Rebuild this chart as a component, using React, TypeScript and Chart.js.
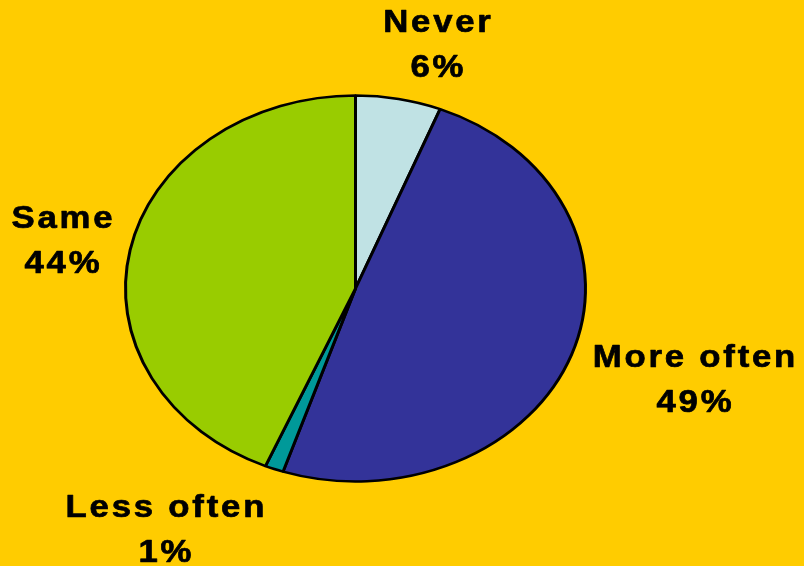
import { useEffect, useRef } from "react";
import { Chart, registerables } from "chart.js";

Chart.register(...registerables);

const categories = ["Never", "More often", "Less often", "Same"];
const values = [6.0, 49.1, 1.3, 43.6];
const percentLabels = ["6%", "49%", "1%", "44%"];
const sliceColors = ["#C0E2E4", "#333399", "#009999", "#99CC00"];

// label anchor (center x, first baseline y) for each category
const labelAnchors: [number, number][] = [
  [437, 32],
  [694, 367],
  [165, 517],
  [62, 228],
];

const W = 804;
const H = 566;
const RX = 230;
const RY = 193;
const SX = 1.12;

export default function App() {
  const ref = useRef<HTMLCanvasElement | null>(null);

  useEffect(() => {
    const canvas = ref.current!;
    const ellipsePlugin = {
      id: "ellipse",
      beforeDraw(chart: any) {
        const ctx = chart.ctx;
        ctx.save();
        ctx.fillStyle = "#FFCC00";
        ctx.fillRect(0, 0, chart.width, chart.height);
        ctx.restore();
      },
      beforeDatasetsDraw(chart: any) {
        const arc = chart.getDatasetMeta(0).data[0];
        const ctx = chart.ctx;
        ctx.save();
        ctx.translate(arc.x, arc.y);
        ctx.scale(1, RY / RX);
        ctx.translate(-arc.x, -arc.y);
      },
      afterDatasetsDraw(chart: any) {
        chart.ctx.restore();
      },
      afterDraw(chart: any) {
        const ctx = chart.ctx;
        ctx.save();
        ctx.fillStyle = "#000000";
        ctx.strokeStyle = "#000000";
        ctx.lineWidth = 0.7;
        ctx.lineJoin = "round";
        ctx.font = "bold 31px 'Liberation Sans', Arial, sans-serif";
        (ctx as any).letterSpacing = "2.5px";
        ctx.textAlign = "center";
        ctx.textBaseline = "alphabetic";
        ctx.scale(SX, 1);
        categories.forEach((c, i) => {
          const [x, y] = labelAnchors[i];
          const lx = x / SX + 1.25;
          ctx.fillText(c, lx, y);
          ctx.strokeText(c, lx, y);
          ctx.fillText(percentLabels[i], lx, y + 45);
          ctx.strokeText(percentLabels[i], lx, y + 45);
        });
        ctx.restore();
      },
    };

    const chart = new Chart(canvas, {
      type: "pie",
      data: {
        labels: categories,
        datasets: [
          {
            data: values,
            backgroundColor: sliceColors,
            borderColor: "#000000",
            borderWidth: 3,
          },
        ],
      },
      options: {
        responsive: false,
        animation: false,
        layout: {
          padding: { left: 124, right: 217, top: 57, bottom: 46 },
        },
        plugins: {
          legend: { display: false },
          tooltip: { enabled: false },
        },
      },
      plugins: [ellipsePlugin],
    });
    return () => chart.destroy();
  }, []);

  return (
    <div style={{ position: "fixed", left: 0, top: 0, width: W, height: H }}>
      <canvas ref={ref} width={W} height={H} style={{ width: W, height: H, display: "block" }} />
    </div>
  );
}
